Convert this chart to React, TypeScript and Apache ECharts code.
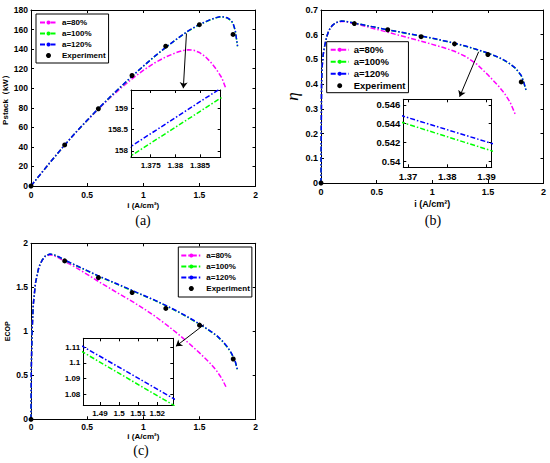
import React, { useEffect, useRef } from "react";
import * as echarts from "echarts";

// ---------- data ----------
const seriesNames = ["a=80%", "a=100%", "a=120%", "Experiment"];
const lineColors = ["#ff00ff", "#00ff00", "#0000ff"];

const expX = [0, 0.3, 0.6, 0.9, 1.2, 1.5, 1.8];

// (a) Pstack (kW)
const aX80 = [0, 0.05, 0.1, 0.2, 0.3, 0.4, 0.5, 0.6, 0.7, 0.8, 0.9, 1.0, 1.1, 1.2, 1.3, 1.35, 1.4, 1.45, 1.5, 1.55, 1.6, 1.65, 1.7, 1.735];
const aY80 = [0, 7.2, 14.3, 28.2, 41.9, 54.7, 66.9, 78.6, 89.7, 100, 109.6, 118.3, 125.8, 132, 136.7, 138.5, 139.3, 138.8, 136.6, 132.6, 126.8, 119.6, 110.6, 100];
const aX = [0, 0.05, 0.1, 0.2, 0.3, 0.4, 0.5, 0.6, 0.7, 0.8, 0.9, 1.0, 1.1, 1.2, 1.3, 1.38, 1.4, 1.5, 1.6, 1.65, 1.68, 1.7, 1.75, 1.78, 1.8, 1.82, 1.84];
const aY100 = [0, 7.2, 14.3, 28.2, 41.9, 54.9, 67.1, 79, 90.4, 101.4, 112.1, 122.4, 132.3, 141.6, 150.3, 156.8, 158.4, 165, 170.1, 172, 172.8, 173, 171.8, 169.4, 166.3, 158.8, 142.8];
const aY120 = [0, 7.2, 14.3, 28.3, 42, 55, 67.3, 79.2, 90.6, 101.6, 112.3, 122.6, 132.5, 141.8, 150.5, 157, 158.6, 165.2, 170.3, 172.2, 173, 173.2, 172, 169.6, 166.5, 159, 143];
const aExp = [0, 42, 79, 113, 143, 165, 155];
const aInsetX = [1.37, 1.39];
const aInset100 = [157.81, 159.3];
const aInset120 = [158.03, 159.53];
const aInsetXTicks = [1.375, 1.38, 1.385];
const aInsetYTicks = [158, 158.5, 159];

// (b) efficiency
const bX80 = [0, 0.002, 0.005, 0.01, 0.02, 0.03, 0.05, 0.07, 0.1, 0.13, 0.18, 0.22, 0.3, 0.4, 0.5, 0.6, 0.7, 0.8, 0.9, 1.0, 1.1, 1.2, 1.3, 1.4, 1.5, 1.6, 1.65, 1.7, 1.75];
const bY80 = [0, 0.2, 0.4, 0.47, 0.52, 0.548, 0.59, 0.617, 0.637, 0.648, 0.654, 0.653, 0.645, 0.634, 0.622, 0.61, 0.598, 0.586, 0.574, 0.561, 0.548, 0.533, 0.512, 0.481, 0.438, 0.39, 0.362, 0.327, 0.274];
const bX = [0, 0.002, 0.005, 0.01, 0.02, 0.03, 0.05, 0.07, 0.1, 0.13, 0.18, 0.22, 0.3, 0.4, 0.5, 0.6, 0.7, 0.8, 0.9, 1.0, 1.1, 1.2, 1.3, 1.4, 1.5, 1.6, 1.65, 1.7, 1.75, 1.8, 1.82, 1.845];
const bY100 = [0, 0.2, 0.4, 0.47, 0.52, 0.548, 0.59, 0.617, 0.637, 0.648, 0.655, 0.654, 0.647, 0.638, 0.629, 0.6195, 0.6115, 0.6025, 0.5945, 0.5855, 0.5753, 0.5653, 0.5533, 0.5398, 0.5253, 0.5073, 0.4953, 0.4813, 0.4633, 0.4343, 0.4113, 0.3713];
const bY120 = [0, 0.2, 0.4, 0.47, 0.52, 0.548, 0.59, 0.617, 0.637, 0.648, 0.655, 0.654, 0.647, 0.638, 0.629, 0.62, 0.612, 0.603, 0.595, 0.586, 0.576, 0.566, 0.554, 0.5405, 0.526, 0.508, 0.496, 0.482, 0.464, 0.435, 0.412, 0.372];
const bExp = [0, 0.645, 0.62, 0.592, 0.563, 0.52, 0.409];
const bInsetX = [1.368, 1.392];
const bInset100 = [0.5442, 0.541];
const bInset120 = [0.5449, 0.5418];
const bInsetXTicks = [1.37, 1.38, 1.39];
const bInsetYTicks = [0.54, 0.542, 0.544, 0.546];

// (c) ECOP
const cX80 = [0, 0.003, 0.01, 0.02, 0.04, 0.07, 0.1, 0.13, 0.17, 0.2, 0.25, 0.3, 0.4, 0.5, 0.6, 0.7, 0.8, 0.9, 1.0, 1.1, 1.2, 1.3, 1.4, 1.5, 1.6, 1.65, 1.7, 1.735];
const cY80 = [0, 0.6, 1.0, 1.3, 1.55, 1.73, 1.808, 1.855, 1.87, 1.862, 1.832, 1.795, 1.725, 1.647, 1.567, 1.49, 1.415, 1.34, 1.26, 1.175, 1.08, 0.98, 0.87, 0.755, 0.63, 0.555, 0.46, 0.37];
const cX = [0, 0.003, 0.01, 0.02, 0.04, 0.07, 0.1, 0.13, 0.17, 0.2, 0.25, 0.3, 0.4, 0.5, 0.6, 0.7, 0.8, 0.9, 1.0, 1.1, 1.2, 1.3, 1.4, 1.5, 1.6, 1.65, 1.7, 1.75, 1.78, 1.8, 1.82, 1.836];
const cY100 = [0, 0.6, 1.0, 1.3, 1.55, 1.73, 1.81, 1.86, 1.877, 1.871, 1.843, 1.807, 1.746, 1.686, 1.626, 1.571, 1.516, 1.461, 1.406, 1.351, 1.291, 1.226, 1.156, 1.081, 0.996, 0.951, 0.891, 0.816, 0.756, 0.706, 0.646, 0.566];
const cY120 = [0, 0.6, 1.0, 1.3, 1.55, 1.73, 1.81, 1.86, 1.878, 1.872, 1.845, 1.81, 1.75, 1.69, 1.63, 1.575, 1.52, 1.465, 1.41, 1.355, 1.295, 1.23, 1.16, 1.085, 1.0, 0.955, 0.895, 0.82, 0.76, 0.71, 0.65, 0.57];
const cExp = [0, 1.8, 1.61, 1.44, 1.26, 1.07, 0.685];
const cInsetX = [1.48, 1.53];
const cInset100 = [1.1077, 1.0718];
const cInset120 = [1.1113, 1.0761];
const cInsetXTicks = [1.49, 1.5, 1.51, 1.52];
const cInsetYTicks = [1.08, 1.09, 1.1, 1.11];

// annotation arrows (data coords of main plots)
const arrowA = [[1.385, 156], [1.357, 100]];
const arrowB = [[1.417, 0.531], [1.246, 0.349]];
const arrowC = [[1.54, 1.075], [1.29, 0.83]];

// ---------- helpers ----------
const FONT = "'Liberation Sans', Arial, sans-serif";
const SERIF = "'Liberation Serif', 'Times New Roman', serif";
const DASH = [5, 2, 1.5, 2];

const zip = (xs: number[], ys: number[]) => xs.map((x, i) => [x, ys[i]]);

function lineSeries(name: string, color: string, data: number[][], gi: number) {
  return {
    type: "line",
    name,
    data,
    xAxisIndex: 2 * gi,
    yAxisIndex: 2 * gi,
    symbol: "none",
    showSymbol: false,
    clip: true,
    lineStyle: { color, width: 1.5, type: DASH },
    itemStyle: { color },
    z: 3,
  };
}

function scatterSeries(data: number[][], gi: number) {
  return {
    type: "scatter",
    name: "Experiment",
    data,
    xAxisIndex: 2 * gi,
    yAxisIndex: 2 * gi,
    symbol: "circle",
    symbolSize: 5,
    itemStyle: { color: "#000", opacity: 1 },
    z: 4,
  };
}

function arrowSeries(coords: number[][], gi: number) {
  return {
    type: "lines",
    coordinateSystem: "cartesian2d",
    xAxisIndex: 2 * gi,
    yAxisIndex: 2 * gi,
    symbol: ["none", "arrow"],
    symbolSize: 6,
    silent: true,
    lineStyle: { color: "#000", width: 1, opacity: 1 },
    data: [{ coords }],
    z: 6,
  };
}

type AxOpt = {
  min: number;
  max: number;
  interval?: number;
  custom?: number[];
  fs: number;
  margin?: number;
  name?: string;
  nameGap?: number;
  nameStyle?: any;
};

function axisPair(kind: "x" | "y", gi: number, o: AxOpt) {
  const base: any = {
    type: "value",
    gridIndex: gi,
    min: o.min,
    max: o.max,
    splitLine: { show: false },
    axisLine: { show: true, onZero: false, lineStyle: { color: "#000", width: 1 } },
  };
  if (o.interval !== undefined) base.interval = o.interval;
  const tick: any = { show: true, inside: true, length: 3, lineStyle: { color: "#000", width: 1 } };
  if (o.custom) tick.customValues = o.custom;
  const label: any = {
    show: true,
    color: "#000",
    fontSize: o.fs,
    fontWeight: "bold",
    fontFamily: FONT,
    margin: o.margin !== undefined ? o.margin : kind === "x" ? 4 : 3,
  };
  if (o.custom) label.customValues = o.custom;
  const first: any = {
    ...base,
    position: kind === "x" ? "bottom" : "left",
    axisTick: tick,
    axisLabel: label,
  };
  if (o.name) {
    first.name = o.name;
    first.nameLocation = "middle";
    first.nameGap = o.nameGap;
    first.nameTextStyle = o.nameStyle;
  }
  const second: any = {
    ...base,
    position: kind === "x" ? "top" : "right",
    axisTick: tick,
    axisLabel: { show: false },
  };
  return [first, second];
}

const nameBold = (fs: number) => ({ color: "#000", fontSize: fs, fontWeight: "bold", fontFamily: FONT });

function legendAt(left: number, top: number, o: any) {
  return {
    orient: "vertical",
    left,
    top,
    padding: o.padding,
    itemWidth: o.itemWidth,
    itemHeight: 5,
    itemGap: 0,
    borderColor: "#000",
    borderWidth: 1,
    backgroundColor: "#fff",
    selectedMode: false,
    data: seriesNames,
    textStyle: {
      color: "#000",
      fontSize: o.fs,
      fontWeight: o.fw,
      fontFamily: FONT,
      lineHeight: o.lh,
    },
  };
}

function buildOption() {
  const grids = [
    { left: 31, top: 10, width: 224.5, height: 176 },
    { left: 321, top: 10, width: 222.5, height: 173 },
    { left: 31, top: 243.3, width: 224.7, height: 176 },
    { left: 131, top: 90, width: 89.7, height: 67.3, show: true, backgroundColor: "#fff", borderWidth: 0 },
    { left: 403.3, top: 99.3, width: 88.4, height: 68, show: true, backgroundColor: "#fff", borderWidth: 0 },
    { left: 83.3, top: 338.3, width: 90, height: 66.7, show: true, backgroundColor: "#fff", borderWidth: 0 },
  ];
  const xName = "i (A/cm²)";
  const xAxes = [
    ...axisPair("x", 0, { min: 0, max: 2, interval: 0.5, fs: 8.5, name: xName, nameGap: 15, nameStyle: nameBold(8) }),
    ...axisPair("x", 1, { min: 0, max: 2, interval: 0.5, fs: 9, name: xName, nameGap: 16, nameStyle: nameBold(9) }),
    ...axisPair("x", 2, { min: 0, max: 2, interval: 0.5, fs: 8.5, margin: 3, name: xName, nameGap: 12, nameStyle: nameBold(8) }),
    ...axisPair("x", 3, { min: 1.371, max: 1.3892, custom: aInsetXTicks, fs: 8 }),
    ...axisPair("x", 4, { min: 1.3688, max: 1.3913, custom: bInsetXTicks, fs: 9.5 }),
    ...axisPair("x", 5, { min: 1.4813, max: 1.5284, custom: cInsetXTicks, fs: 8 }),
  ];
  const yAxes = [
    ...axisPair("y", 0, { min: 0, max: 180, interval: 20, fs: 8.5, name: "Pstack（kW）", nameGap: 20, nameStyle: nameBold(8) }),
    ...axisPair("y", 1, {
      min: 0,
      max: 0.7,
      interval: 0.1,
      fs: 9,
      name: "η",
      nameGap: 20,
      nameStyle: { color: "#000", fontSize: 17, fontStyle: "italic", fontFamily: SERIF },
    }),
    ...axisPair("y", 2, { min: 0, max: 2, interval: 0.5, fs: 8.5, name: "ECOP", nameGap: 20, nameStyle: nameBold(7) }),
    ...axisPair("y", 3, { min: 157.85, max: 159.43, custom: aInsetYTicks, fs: 8 }),
    ...axisPair("y", 4, { min: 0.53933, max: 0.54661, custom: bInsetYTicks, fs: 9.5 }),
    ...axisPair("y", 5, { min: 1.073, max: 1.1158, custom: cInsetYTicks, fs: 8 }),
  ];

  const series: any[] = [
    // (a)
    lineSeries(seriesNames[0], lineColors[0], zip(aX80, aY80), 0),
    lineSeries(seriesNames[1], lineColors[1], zip(aX, aY100), 0),
    lineSeries(seriesNames[2], lineColors[2], zip(aX, aY120), 0),
    scatterSeries(zip(expX, aExp), 0),
    // (b)
    lineSeries(seriesNames[0], lineColors[0], zip(bX80, bY80), 1),
    lineSeries(seriesNames[1], lineColors[1], zip(bX, bY100), 1),
    lineSeries(seriesNames[2], lineColors[2], zip(bX, bY120), 1),
    scatterSeries(zip(expX, bExp), 1),
    // (c)
    lineSeries(seriesNames[0], lineColors[0], zip(cX80, cY80), 2),
    lineSeries(seriesNames[1], lineColors[1], zip(cX, cY100), 2),
    lineSeries(seriesNames[2], lineColors[2], zip(cX, cY120), 2),
    scatterSeries(zip(expX, cExp), 2),
    // insets
    lineSeries(seriesNames[1], lineColors[1], zip(aInsetX, aInset100), 3),
    lineSeries(seriesNames[2], lineColors[2], zip(aInsetX, aInset120), 3),
    lineSeries(seriesNames[1], lineColors[1], zip(bInsetX, bInset100), 4),
    lineSeries(seriesNames[2], lineColors[2], zip(bInsetX, bInset120), 4),
    lineSeries(seriesNames[1], lineColors[1], zip(cInsetX, cInset100), 5),
    lineSeries(seriesNames[2], lineColors[2], zip(cInsetX, cInset120), 5),
    // arrows
    arrowSeries(arrowA, 0),
    arrowSeries(arrowB, 1),
    arrowSeries(arrowC, 2),
  ];

  const legends = [
    legendAt(36, 14, { padding: [3, 3, 2, 3], itemWidth: 17, fs: 8, fw: "bold", lh: 11 }),
    legendAt(326.7, 41.7, { padding: [2, 3, 1, 3], itemWidth: 18, fs: 9.5, fw: "bold", lh: 12 }),
    legendAt(178.3, 247, { padding: [3, 2, 3, 2], itemWidth: 20, fs: 8, fw: "bold", lh: 11 }),
  ];

  const caption = (text: string, x: number, y: number) => ({
    type: "text",
    x,
    y,
    silent: true,
    style: {
      text,
      align: "center",
      verticalAlign: "middle",
      fill: "#000",
      font: `14px ${SERIF}`,
    },
  });

  return {
    animation: false,
    backgroundColor: "#fff",
    grid: grids,
    xAxis: xAxes,
    yAxis: yAxes,
    legend: legends,
    series,
    graphic: [caption("(a)", 143, 220), caption("(b)", 433, 220), caption("(c)", 141, 450)],
  };
}

export default function App() {
  const ref = useRef<HTMLDivElement>(null);
  useEffect(() => {
    document.body.style.margin = "0";
    if (!ref.current) return;
    const chart = echarts.init(ref.current, undefined, { renderer: "svg" });
    chart.setOption(buildOption() as any);
    return () => chart.dispose();
  }, []);
  return <div ref={ref} style={{ width: 550, height: 463 }} />;
}
